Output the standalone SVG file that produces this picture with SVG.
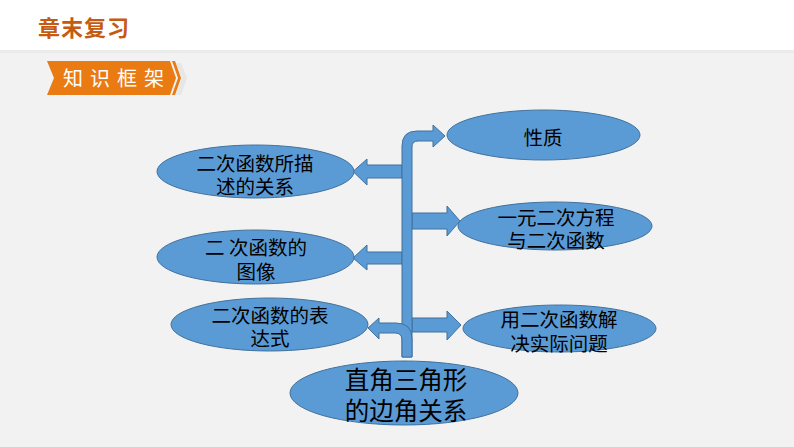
<svg xmlns="http://www.w3.org/2000/svg" width="794" height="447" viewBox="0 0 794 447">
<style>
.node ellipse{fill:#5b9bd5;stroke:#41719c;stroke-width:1}
.node text{font-family:"Noto Sans CJK SC","Noto Sans",sans-serif;fill:#000;text-anchor:middle;font-size:19.5px}
.arr{fill:#5b9bd5;stroke:#41719c;stroke-width:1;stroke-linejoin:miter}
</style>
<rect x="0" y="0" width="794" height="447" fill="#ffffff"/>
<rect x="0" y="50" width="794" height="397" fill="#f2f2f2"/>
<rect x="0" y="50" width="794" height="3" fill="#ebebeb"/>
<g id="title">
<text x="38" y="35.5" font-family="Noto Sans CJK SC,sans-serif" font-size="22" font-weight="bold" fill="#c55a11" letter-spacing="1">章末复习</text>
</g>
<g id="banner">
<polygon points="181,63 187,78 181,95 176,95 182,78 176,63" fill="#e0e0e0" opacity="0.6"/>
<polygon points="47,61 170,61 176,78 170,95 47,95 54,78" fill="#ea7a12"/>
<polygon points="172,61 175,61 181,78 175,95 172,95 178,78" fill="#ea7a12"/>
<text x="63" y="85.5" font-family="Noto Sans CJK SC,sans-serif" font-size="20" fill="#ffffff" letter-spacing="7">知识框架</text>
</g>
<g id="connectors">
<path class="arr" d="M367,165 L402,165 L402,178 L367,178 L367,185 L353,171.5 L367,159 Z"/>
<path class="arr" d="M367,252 L402,252 L402,264 L367,264 L367,270 L353,258 L367,245 Z"/>
<path class="arr" d="M412,213 L447,213 L447,206 L460,221 L447,236 L447,229 L412,229 Z"/>
<path class="arr" d="M412,318 L447,318 L447,311 L461,325 L447,340 L447,332 L412,332 Z"/>
<path class="arr" d="M402,357 L402,146 Q402,131 417,131 L433,131 L433,125 L445,136 L433,147 L433,141 L418,141 Q412,141 412,147 L412,357 Z"/>
<path class="arr" d="M412,357 L412,339 Q412,323 396,323 L379,323 L379,318 L368,328 L379,339 L379,333 L395,333 Q402,333 402,340 L402,357 Z"/>
</g>
<g id="n1" class="node">
<ellipse cx="255.5" cy="171.5" rx="98.5" ry="26.5"/>
<text x="255" y="170.5">二次函数所描</text>
<text x="255" y="193.5">述的关系</text>
</g>
<g id="n2" class="node">
<ellipse cx="255.5" cy="257" rx="98.5" ry="27"/>
<text x="256" y="254.5">二 次函数的</text>
<text x="256" y="278.5">图像</text>
</g>
<g id="n3" class="node">
<ellipse cx="269.5" cy="324.5" rx="98.5" ry="26.5"/>
<text x="270" y="322.5">二次函数的表</text>
<text x="270" y="345.5">达式</text>
</g>
<g id="n4" class="node">
<ellipse cx="404" cy="393" rx="114" ry="32"/>
<text x="406" y="388.5" style="font-size:24.5px">直角三角形</text>
<text x="406" y="419.5" style="font-size:24.5px">的边角关系</text>
</g>
<g id="n5" class="node">
<ellipse cx="543.5" cy="135" rx="96.5" ry="25"/>
<text x="543" y="144.5">性质</text>
</g>
<g id="n6" class="node">
<ellipse cx="555" cy="226" rx="97" ry="24"/>
<text x="556" y="224.5">一元二次方程</text>
<text x="556" y="247.5">与二次函数</text>
</g>
<g id="n7" class="node">
<ellipse cx="559.5" cy="328.5" rx="96.5" ry="23.5"/>
<text x="559" y="326.5">用二次函数解</text>
<text x="559" y="350.5">决实际问题</text>
</g>
</svg>
